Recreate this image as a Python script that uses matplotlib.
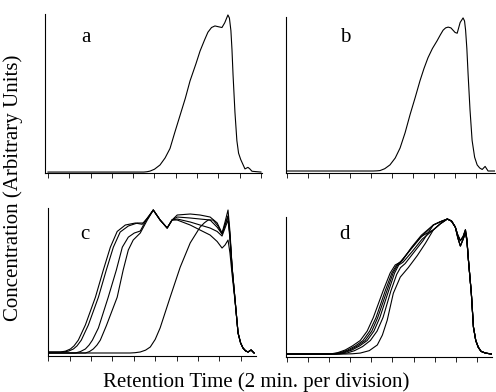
import matplotlib.pyplot as plt
import numpy as np

plt.rcParams['font.family'] = ['Liberation Serif', 'DejaVu Serif']

# x: retention time in divisions, y: concentration (fraction of peak)

# panel a
a_x = [0, 4.5, 4.65, 4.79, 5.0, 5.26, 5.5, 5.73, 5.95, 6.2, 6.45, 6.67, 6.95, 7.14, 7.35, 7.51,
       7.68, 7.84, 8.0, 8.17, 8.3, 8.36, 8.45, 8.52, 8.59, 8.64, 8.69, 8.78, 8.87, 8.95, 9.05,
       9.15, 9.25, 9.32, 9.39, 9.48, 9.58, 10.0]
a_y = [0, 0, 0.002, 0.006, 0.018, 0.045, 0.09, 0.15, 0.25, 0.36, 0.47, 0.58, 0.69, 0.77, 0.84, 0.89,
       0.92, 0.93, 0.925, 0.92, 0.95, 0.97, 1.0, 0.98, 0.90, 0.78, 0.62, 0.38, 0.2, 0.12, 0.08,
       0.05, 0.02, 0.025, 0.03, 0.02, 0.005, 0]

# panel b
b_x = [0, 4.1, 4.28, 4.43, 4.65, 4.9, 5.15, 5.38, 5.62, 5.86, 6.1, 6.33, 6.52, 6.71, 6.92, 7.14,
       7.3, 7.43, 7.55, 7.67, 7.8, 7.9, 8.0, 8.1, 8.24, 8.38, 8.45, 8.5, 8.56, 8.62, 8.71, 8.81,
       8.93, 9.05, 9.17, 9.29, 9.36, 9.43, 9.5, 9.57, 9.9]
b_y = [0, 0, 0.001, 0.003, 0.015, 0.04, 0.085, 0.15, 0.25, 0.37, 0.48, 0.59, 0.67, 0.74, 0.80, 0.85,
       0.89, 0.92, 0.935, 0.94, 0.935, 0.92, 0.905, 0.90, 0.97, 1.0, 0.98, 0.92, 0.80, 0.63, 0.40, 0.2,
       0.09, 0.04, 0.02, 0.01, 0.02, 0.03, 0.015, 0, 0]

# panel c: four early runs, one late run
c1_x = [0, 0.56, 0.8, 1.03, 1.2, 1.4, 1.73, 2.2, 2.57, 2.9, 3.22, 3.6, 4.07, 4.39, 4.63, 4.91, 5.23, 5.56, 5.79]
c1_y = [0.007, 0.007, 0.013, 0.028, 0.05, 0.09, 0.196, 0.39, 0.58, 0.74, 0.85, 0.895, 0.909, 0.90, 0.944, 1.0, 0.93, 0.874, 0.93]
c2_x = [0, 0.70, 0.94, 1.17, 1.34, 1.54, 1.87, 2.34, 2.71, 3.04, 3.36, 3.74, 4.16, 4.44, 4.67, 4.91, 5.23, 5.56, 5.79]
c2_y = [0.007, 0.007, 0.013, 0.028, 0.05, 0.09, 0.196, 0.39, 0.58, 0.74, 0.846, 0.888, 0.909, 0.909, 0.944, 1.0, 0.93, 0.874, 0.93]
c3_x = [0, 1.26, 1.5, 1.73, 1.9, 2.06, 2.34, 2.80, 3.18, 3.46, 3.74, 4.02, 4.30, 4.58, 4.91, 5.23, 5.56, 5.79]
c3_y = [0, 0, 0.01, 0.028, 0.055, 0.09, 0.175, 0.39, 0.58, 0.74, 0.81, 0.839, 0.853, 0.93, 1.0, 0.93, 0.874, 0.93]
c4_x = [0, 1.73, 1.92, 2.10, 2.27, 2.43, 2.71, 3.22, 3.50, 3.74, 3.97, 4.30, 4.63, 4.91, 5.23, 5.56, 5.79]
c4_y = [0, 0, 0.01, 0.028, 0.055, 0.09, 0.19, 0.39, 0.58, 0.72, 0.79, 0.839, 0.93, 1.0, 0.93, 0.874, 0.93]

c_tail_x = [6.03, 6.64, 7.10, 7.57, 7.90, 8.13, 8.27, 8.41, 8.50, 8.60, 8.74, 8.88, 9.0, 9.11, 9.23, 9.35, 9.49, 9.63]
c1_tail_y = [0.965, 0.972, 0.965, 0.951, 0.91, 0.839, 0.916, 1.0, 0.85, 0.60, 0.37, 0.14, 0.07, 0.035, 0.015, 0.007, 0.021, 0]
c2_tail_y = [0.951, 0.944, 0.937, 0.93, 0.88, 0.832, 0.895, 0.958, 0.82, 0.60, 0.37, 0.14, 0.07, 0.035, 0.015, 0.007, 0.021, 0]
c3_tail_y = [0.937, 0.916, 0.895, 0.874, 0.85, 0.818, 0.874, 0.93, 0.80, 0.59, 0.37, 0.14, 0.07, 0.035, 0.015, 0.007, 0.021, 0]
c4_tail_y = [0.93, 0.895, 0.86, 0.825, 0.78, 0.734, 0.755, 0.79, 0.70, 0.55, 0.36, 0.14, 0.07, 0.035, 0.015, 0.007, 0.021, 0]

c5_x = [0, 3.83, 4.05, 4.30, 4.55, 4.77, 5.0, 5.23, 5.70, 6.17, 6.64, 7.10, 7.30, 7.48, 7.71, 7.94, 8.13,
        8.27, 8.41, 8.50, 8.60, 8.74, 8.88, 9.0, 9.11, 9.23, 9.35, 9.49, 9.63]
c5_y = [0, 0, 0.002, 0.007, 0.02, 0.042, 0.095, 0.175, 0.39, 0.60, 0.77, 0.88, 0.91, 0.93, 0.93, 0.888, 0.832,
        0.895, 0.958, 0.82, 0.60, 0.37, 0.14, 0.07, 0.035, 0.015, 0.007, 0.021, 0]

# panel d: six runs, rising parts differ, shared tail
d1_x = [0, 2.04, 2.4, 2.76, 3.1, 3.47, 3.8, 4.09, 4.56, 4.89, 5.13, 5.37, 5.84, 6.32]
d1_y = [0, 0, 0.01, 0.03, 0.06, 0.10, 0.17, 0.27, 0.47, 0.60, 0.66, 0.68, 0.77, 0.86]
d2_x = [0, 2.15, 2.52, 2.88, 3.24, 3.6, 3.92, 4.22, 4.66, 4.97, 5.2, 5.42, 5.88, 6.35]
d2_y = [0, 0, 0.01, 0.03, 0.06, 0.10, 0.17, 0.27, 0.47, 0.60, 0.66, 0.69, 0.78, 0.87]
d3_x = [0, 2.25, 2.62, 2.98, 3.34, 3.7, 4.02, 4.3, 4.74, 5.03, 5.25, 5.46, 5.9, 6.37]
d3_y = [0, 0, 0.01, 0.03, 0.06, 0.10, 0.17, 0.27, 0.47, 0.60, 0.66, 0.69, 0.79, 0.88]
d4_x = [0, 2.35, 2.72, 3.08, 3.44, 3.8, 4.12, 4.4, 4.82, 5.1, 5.3, 5.5, 5.94, 6.4]
d4_y = [0, 0, 0.01, 0.03, 0.06, 0.10, 0.17, 0.27, 0.47, 0.60, 0.66, 0.68, 0.76, 0.85]
d5_x = [0, 2.5, 2.85, 3.2, 3.58, 3.95, 4.27, 4.55, 4.93, 5.2, 5.38, 5.6, 6.0, 6.45]
d5_y = [0, 0, 0.008, 0.025, 0.055, 0.10, 0.17, 0.27, 0.47, 0.59, 0.64, 0.67, 0.75, 0.84]
d6_x = [0, 2.76, 3.1, 3.47, 3.9, 4.28, 4.52, 4.75, 5.04, 5.37, 5.75, 6.18, 6.56]
d6_y = [0, 0, 0.002, 0.007, 0.025, 0.067, 0.14, 0.25, 0.45, 0.57, 0.64, 0.73, 0.82]

d_tail_x = [6.94, 7.27, 7.60, 7.8, 7.98, 8.1, 8.22, 8.35, 8.46, 8.53, 8.60, 8.74, 8.84, 8.95, 9.07, 9.2, 9.41, 9.7]
d_tail_hi = [0.956, 0.98, 1.0, 0.985, 0.94, 0.88, 0.84, 0.87, 0.92, 0.85, 0.70, 0.45, 0.20, 0.10, 0.05, 0.02, 0.007, 0]
d_tail_lo = [0.92, 0.965, 1.0, 0.985, 0.94, 0.86, 0.80, 0.85, 0.90, 0.84, 0.70, 0.45, 0.20, 0.10, 0.05, 0.02, 0.007, 0]

W, H = 496, 392
fig = plt.figure(figsize=(W / 100, H / 100), dpi=100)


def panel(left, right, top, bottom, xlim, ylim, label, lx, ly):
    ax = fig.add_axes([left / W, 1 - bottom / H, (right - left) / W, (bottom - top) / H])
    ax.set_xlim(*xlim)
    ax.set_ylim(*ylim)
    for s in ["top", "right"]:
        ax.spines[s].set_visible(False)
    for s in ["left", "bottom"]:
        ax.spines[s].set_linewidth(0.8)
    ax.set_xticks(np.arange(0, int(xlim[1]) + 1))
    ax.set_yticks([])
    ax.tick_params(axis="x", direction="out", length=3.5, width=0.6, labelbottom=False)
    fig.text(lx / W, 1 - ly / H, label, fontsize=15, ha="center", va="center")
    return ax


lw = 0.8
ax = panel(45, 262, 14, 173, (-0.14, 10.05), (-0.006, 1.006), "a", 86, 37)
ax.plot(a_x, a_y, color="black", lw=lw)

ax = panel(286, 495, 17, 173, (-0.05, 9.9), (-0.013, 1.006), "b", 345, 37)
ax.plot(b_x, b_y, color="black", lw=lw)

ax = panel(48, 256, 208, 356, (-0.02, 9.72), (-0.021, 1.014), "c", 85, 234)
for hx, hy, ty in [(c1_x, c1_y, c1_tail_y), (c2_x, c2_y, c2_tail_y),
                   (c3_x, c3_y, c3_tail_y), (c4_x, c4_y, c4_tail_y)]:
    ax.plot(hx + c_tail_x, hy + ty, color="black", lw=lw)
ax.plot(c5_x, c5_y, color="black", lw=lw)

ax = panel(286, 492, 217, 357, (-0.05, 9.72), (-0.022, 1.015), "d", 345, 234)
for i, (hx, hy) in enumerate([(d1_x, d1_y), (d2_x, d2_y), (d3_x, d3_y),
                              (d4_x, d4_y), (d5_x, d5_y), (d6_x, d6_y)]):
    ty = d_tail_hi if i % 2 == 0 else d_tail_lo
    ax.plot(hx + d_tail_x, hy + ty, color="black", lw=lw)

fig.text(256 / W, 1 - 382 / H, "Retention Time (2 min. per division)", fontsize=15,
         ha="center", va="center")
fig.text(13 / W, 1 - 188 / H, "Concentration (Arbitrary Units)", fontsize=15,
         ha="center", va="center", rotation=90)

fig.savefig("out.png", dpi=100)
